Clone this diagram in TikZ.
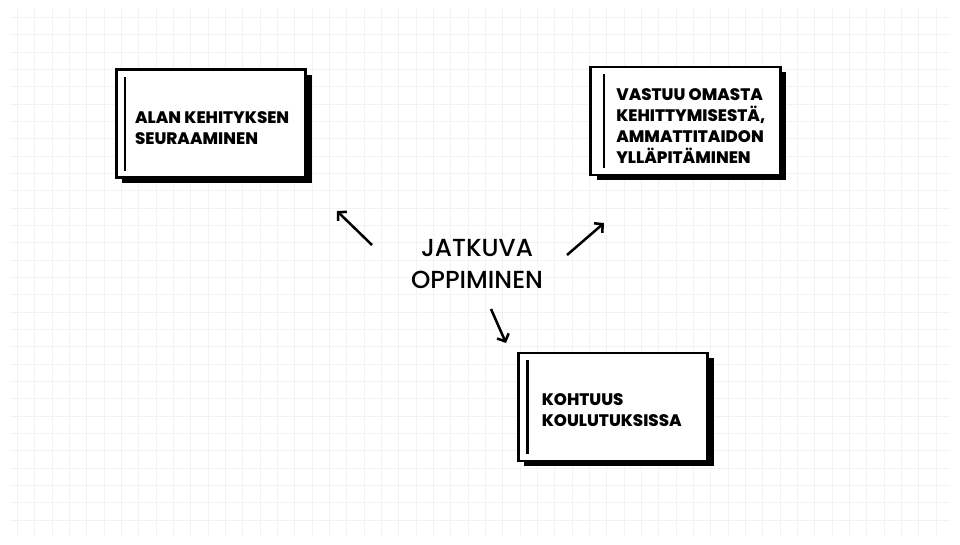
\documentclass[tikz,border=0pt]{standalone}
\usepackage{fontspec}
\setmainfont{Poppins}
\newfontfamily\heavyfont{Poppins ExtraBold}
\newfontfamily\midfont{Poppins Medium}
\usetikzlibrary{positioning,shadows,arrows.meta}

\tikzset{
  notebox/.style={draw=black, line width=2.2pt, fill=white, minimum width=142pt, minimum height=81pt,
    general shadow={fill=black, shadow xshift=4.5pt, shadow yshift=-3.8pt}},
  notetext/.style={font=\heavyfont\fontsize{12.5}{15.8}\selectfont, align=left, inner sep=0pt},
  notebar/.style={line width=1.6pt},
  pointer/.style={line width=1.9pt, -{Straight Barb[length=4.5pt,width=9.5pt,line width=1.9pt]}}
}

\begin{document}
\begin{tikzpicture}[x=0.75pt, y=-0.75pt]
    \useasboundingbox (0,0) rectangle (960,544);
    \fill[white] (0,0) rectangle (960,544);
    \draw[black!5, line width=0.6pt, xstep=13pt, ystep=13pt] (10,8) grid (950,536);

    \node[notebox] (alan) at (211,123.5) {};
    \node[notebox] (vastuu) at (685.5,121) {};
    \node[notebox] (kohtuus) at (613,407) {};

    \draw[notebar] ([xshift=7.5pt, yshift=-6.5pt]alan.north west) -- ([xshift=7.5pt, yshift=6pt]alan.south west);
    \draw[notebar] ([xshift=11pt, yshift=-6.5pt]vastuu.north west) -- ([xshift=11pt, yshift=6pt]vastuu.south west);
    \draw[notebar] ([xshift=8pt, yshift=-6.5pt]kohtuus.north west) -- ([xshift=8pt, yshift=6pt]kohtuus.south west);

    \node[notetext, right=15pt of alan.west, yshift=-3.5pt] (alantext) {ALAN KEHITYKSEN\\SEURAAMINEN};
    \node[notetext, right=20pt of vastuu.west, yshift=-4pt] (vastuutext) {VASTUU OMASTA\\KEHITTYMISESTÄ,\\AMMATTITAIDON\\YLLÄPITÄMINEN};
    \node[notetext, right=18.5pt of kohtuus.west, yshift=-2pt] (kohtuustext) {KOHTUUS\\KOULUTUKSISSA};

    \node[font=\midfont\fontsize{18.5}{23.5}\selectfont, align=center, inner sep=0pt] (jatkuva) at (477,264) {JATKUVA\\OPPIMINEN};

    \coordinate (a1) at (372,245);
    \coordinate (a2) at (337,211);
    \coordinate (b1) at (567,255);
    \coordinate (b2) at (604,223);
    \coordinate (c1) at (491,309);
    \coordinate (c2) at (506,343);
    \draw[pointer] (a1) -- (a2);
    \draw[pointer] (b1) -- (b2);
    \draw[pointer] (c1) -- (c2);
\end{tikzpicture}
\end{document}
